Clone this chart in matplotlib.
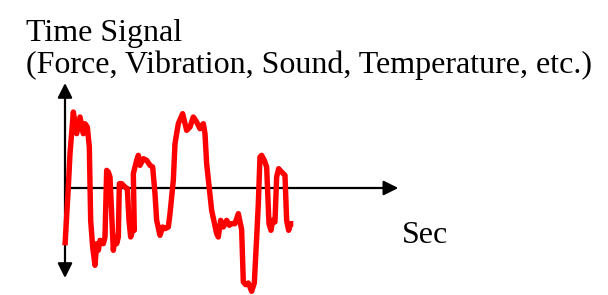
import numpy as np
import matplotlib.pyplot as plt

# signal samples (time in s, amplitude arbitrary)
t = [0.00, 0.10, 0.15, 0.25, 0.35, 0.45, 0.55, 0.60, 0.67, 0.73, 0.77, 0.83, 0.90,
     0.95, 1.00, 1.05, 1.15, 1.20, 1.25, 1.30, 1.35, 1.40, 1.45, 1.50, 1.55, 1.60,
     1.63, 1.70, 1.80, 1.87, 1.92, 1.97, 2.03, 2.08, 2.05, 2.15, 2.20, 2.25, 2.35,
     2.45, 2.55, 2.63, 2.70, 2.75, 2.85, 2.93, 3.00, 3.10, 3.15, 3.25, 3.30, 3.40,
     3.53, 3.65, 3.75, 3.85, 3.95, 4.05, 4.15, 4.20, 4.25, 4.40, 4.55, 4.60, 4.67,
     4.75, 4.85, 4.93, 5.00, 5.10, 5.20, 5.30, 5.35, 5.42, 5.50, 5.60, 5.68, 5.75,
     5.80, 5.85, 5.90, 5.98, 6.05, 6.12, 6.18, 6.23, 6.30, 6.35, 6.41, 6.50, 6.60,
     6.65, 6.71, 6.77, 6.85]
amp = [-1.72, 0.03, 1.03, 2.28, 1.63, 2.13, 1.63, 1.93, 1.83, 1.23, -0.97, -1.77,
       -2.32, -1.67, -1.87, -1.57, -1.67, -1.47, 0.53, 0.48, 0.33, -0.77, -1.87,
       -1.47, -1.67, -1.47, 0.13, 0.13, 0.03, -0.02, -0.97, -1.47, -1.27, -1.27,
       0.43, 0.83, 0.98, 0.68, 0.88, 0.83, 0.68, 0.63, -0.17, -0.97, -1.42, -1.17,
       -1.22, -1.17, -0.77, 0.23, 1.33, 1.93, 2.23, 1.73, 1.83, 2.13, 1.98, 1.78,
       1.93, 1.63, 0.73, -0.67, -1.37, -1.47, -0.97, -1.17, -0.97, -1.12, -1.07,
       -1.07, -0.77, -1.25, -2.82, -2.90, -2.85, -3.10, -2.85, -1.50, -0.47, 0.93,
       0.98, 0.83, 0.63, -1.07, -1.27, -0.97, -1.02, 0.33, 0.58, 0.48, 0.38, -0.97,
       -1.27, -1.07, -1.07]

title_lines = ["Time Signal", "(Force, Vibration, Sound, Temperature, etc.)"]
x_label = "Sec"

plt.rcParams['font.family'] = ['Liberation Serif', 'DejaVu Serif']

fig = plt.figure(figsize=(6.08, 2.95), dpi=100)
ax = fig.add_axes([0, 0, 1, 1])
# map data so that 1 unit = 33.3 px, origin at pixel (65, 188)
ax.set_xlim(-65 / 33.33, (608 - 65) / 33.33)
ax.set_ylim((188 - 295) / 33.33, 188 / 33.33)
ax.axis('off')

# axes arrows
ax.annotate('', xy=(10.0, 0), xytext=(0, 0),
            arrowprops=dict(arrowstyle='-|>', color='black', lw=1.6,
                            mutation_scale=22, shrinkA=0, shrinkB=0))
ax.annotate('', xy=(0, 3.15), xytext=(0, -2.7),
            arrowprops=dict(arrowstyle='<|-|>', color='black', lw=1.6,
                            mutation_scale=22, shrinkA=0, shrinkB=0))

ax.plot(t, amp, color='#ff0000', lw=3.9, solid_joinstyle='round',
        solid_capstyle='butt', zorder=3)

fig.text(26 / 608, 1 - 41 / 295, title_lines[0], fontsize=23, va='baseline')
fig.text(26 / 608, 1 - 73 / 295, title_lines[1], fontsize=23, va='baseline')
fig.text(402 / 608, 1 - 243 / 295, x_label, fontsize=23, va='baseline')

fig.savefig('out.png', dpi=100)
